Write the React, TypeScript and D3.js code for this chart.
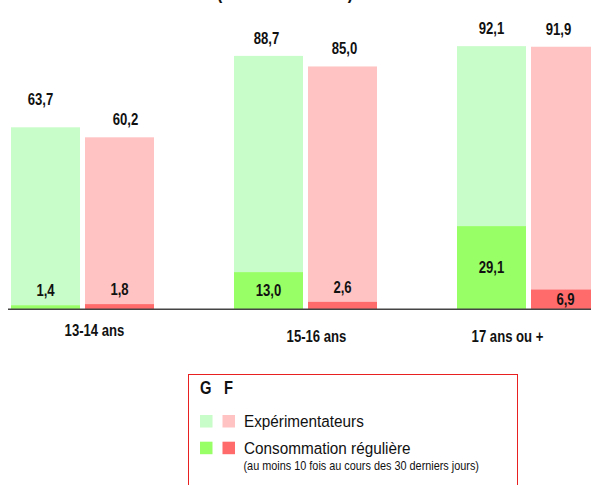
import React from 'react';
import * as d3 from 'd3';

const categories = ['13-14 ans', '15-16 ans', '17 ans ou +'];
const genders = ['G', 'F'];
const experimentG = [63.7, 88.7, 92.1];
const experimentF = [60.2, 85.0, 91.9];
const regularG = [1.4, 13.0, 29.1];
const regularF = [1.8, 2.6, 6.9];
const legendItems = ['Expérimentateurs', 'Consommation régulière'];
const legendNote = '(au moins 10 fois au cours des 30 derniers jours)';
const title = '(en % des élèves)';

const W = 591;
const H = 485;
const FONT = "'Liberation Sans', Arial, sans-serif";
const NARROW = 0.82;

const lightColor: Record<string, string> = { G: '#C8FCC8', F: '#FFC3C3' };
const darkColor: Record<string, string> = { G: '#99FF66', F: '#FF6B6B' };

// label tweaks (layout only)
const expLabelLift = [[22, 12], [12, 12], [12, 12]];
const expLabelDx = [[-5, 6], [-2, 2], [0, -7]];
const catLabelDx = [12, 11, -21];
const catLabelDy = [27, 33, 33];

function NText(props: { x: number; y: number; size: number; bold?: boolean; anchor?: string; sx?: number; children: React.ReactNode }) {
  const { x, y, size, bold, anchor, sx, children } = props;
  return (
    <text
      transform={`translate(${x},${y}) scale(${sx ?? NARROW},1)`}
      textAnchor={anchor || 'start'}
      fontWeight={bold ? 'bold' : 'normal'}
      fontSize={size}
      fill="#111"
    >
      {children}
    </text>
  );
}

export default function App() {
  const x0 = d3.scaleBand<string>().domain(categories).range([11, 600]).paddingInner(80 / 223).paddingOuter(0);
  const x1 = d3.scaleBand<string>().domain(genders).range([0, x0.bandwidth()]).paddingInner(0.0676).paddingOuter(0);
  const y = d3.scaleLinear().domain([0, 100]).range([309.3, 23.6]);

  const rows = categories.map((c, i) => ({
    c,
    i,
    items: genders.map((g) => ({
      g,
      exp: g === 'G' ? experimentG[i] : experimentF[i],
      reg: g === 'G' ? regularG[i] : regularF[i],
    })),
  }));

  const fmt = (v: number) => v.toFixed(1).replace('.', ',');
  const base = y(0);

  return (
    <svg width={W} height={H} style={{ position: 'absolute', left: 0, top: 0, background: '#fff' }} fontFamily={FONT}>
      <NText x={285} y={-1.5} size={20} bold anchor="middle">{title}</NText>
      {rows.map((r) => (
        <g key={r.c} transform={`translate(${x0(r.c)},0)`}>
          {r.items.map((it, j) => {
            const bx = x1(it.g)!;
            const bw = x1.bandwidth();
            const cx = bx + bw / 2;
            const regTop = y(it.reg);
            const regH = base - regTop;
            const regLabelY = regH > 15 ? (regTop + base) / 2 + 5.5 : regTop - 9;
            return (
              <g key={it.g}>
                <rect x={bx} y={y(it.exp)} width={bw} height={base - y(it.exp)} fill={lightColor[it.g]} />
                <rect x={bx} y={regTop} width={bw} height={regH} fill={darkColor[it.g]} />
                <NText x={cx + expLabelDx[r.i][j]} y={y(it.exp) - expLabelLift[r.i][j]} size={16} bold anchor="middle">{fmt(it.exp)}</NText>
                <NText x={cx} y={regLabelY} size={16} bold anchor="middle">{fmt(it.reg)}</NText>
              </g>
            );
          })}
          <NText x={x0.bandwidth() / 2 + catLabelDx[r.i]} y={base + catLabelDy[r.i]} size={16} bold anchor="middle">{r.c}</NText>
        </g>
      ))}
      <line x1={8} x2={W} y1={base} y2={base} stroke="#444" strokeWidth={1.5} />

      <g>
        <rect x={188.5} y={374.5} width={329} height={200} fill="none" stroke="#E82020" strokeWidth={1} />
        <NText x={200} y={394} size={18} bold>G</NText>
        <NText x={224} y={394} size={18} bold>F</NText>
        {legendItems.map((lab, k) => {
          const yy = 415 + k * 26.7;
          return (
            <g key={lab}>
              <rect x={200} y={yy} width={12.5} height={12.5} fill={k === 0 ? lightColor.G : darkColor.G} />
              <rect x={222.5} y={yy} width={12.5} height={12.5} fill={k === 0 ? lightColor.F : darkColor.F} />
              <NText x={244} y={yy + 12} size={17} sx={0.9}>{lab}</NText>
            </g>
          );
        })}
        <NText x={243.5} y={470} size={12.5} sx={0.87}>{legendNote}</NText>
      </g>
    </svg>
  );
}
